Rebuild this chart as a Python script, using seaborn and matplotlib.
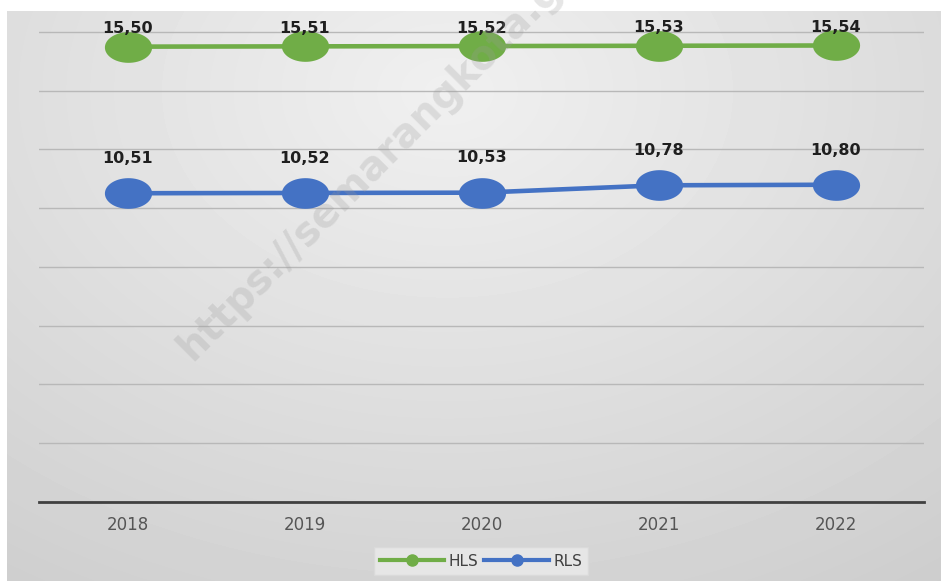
import numpy as np
import pandas as pd
import seaborn as sns
import matplotlib.pyplot as plt
from matplotlib.path import Path
from matplotlib.lines import Line2D

# --- data ---
years = [2018, 2019, 2020, 2021, 2022]
hls = [15.50, 15.51, 15.52, 15.53, 15.54]
rls = [10.51, 10.52, 10.53, 10.78, 10.80]
series_names = ['HLS', 'RLS']
series_colors = ['#70AD47', '#4472C4']

df = pd.DataFrame({
    'Tahun': years * 2,
    'Nilai': hls + rls,
    'Seri': ['HLS'] * len(years) + ['RLS'] * len(years),
})

W, H = 941, 581
fig = plt.figure(figsize=(W / 100, H / 100), dpi=100)
fig.patch.set_facecolor('white')

# --- grey radial gradient panel behind the chart (Excel style) ---
bg = fig.add_axes([7 / W, 0, 1 - 7 / W, 1 - 11 / H])
yy, xx = np.mgrid[0:570, 0:934]
dx = (xx - 440) / 720
dy = (yy - 80) / 520
shade = (240 - 30 * np.sqrt(dx ** 2 + dy ** 2)) / 255
bg.imshow(shade, cmap='gray', vmin=0, vmax=1, aspect='auto', interpolation='bilinear')
bg.axis('off')

# --- main axes ---
ax = fig.add_axes([39 / W, (H - 502) / H, (924 - 39) / W, (502 - 11.4) / H])
ax.patch.set_alpha(0)

# flattened circle marker like in the source picture
theta = np.linspace(0, 2 * np.pi, 60)
ellipse = Path(np.column_stack([np.cos(theta), 0.65 * np.sin(theta)]), closed=True)

sns.lineplot(data=df, x='Tahun', y='Nilai', hue='Seri', palette=series_colors,
             marker=ellipse, markersize=34, markeredgewidth=0, linewidth=3.3,
             legend=False, ax=ax, clip_on=False, zorder=3)

# data labels
offsets = {'HLS': 13, 'RLS': 25}
for name, vals in zip(series_names, [hls, rls]):
    for x, v in zip(years, vals):
        ax.annotate(f'{v:.2f}'.replace('.', ','), (x, v), xytext=(0, offsets[name]),
                    textcoords='offset points', ha='center', va='center',
                    fontsize=11.5, fontweight='bold', color='#1f1f1f', zorder=5)

ax.set_xlim(2017.5, 2022.5)
ax.set_ylim(0, 16.7)
ax.set_xticks(years)
ax.set_xticklabels([str(y) for y in years])
ax.set_yticks(range(0, 17, 2))
ax.set_yticklabels([])
ax.tick_params(axis='both', length=0)
ax.tick_params(axis='x', pad=10, labelsize=12, colors='#555555')
ax.set_xlabel('')
ax.set_ylabel('')
ax.set_axisbelow(True)
ax.yaxis.grid(True, color='#b8b8b8', linewidth=1)
ax.xaxis.grid(False)
for side in ['top', 'left', 'right']:
    ax.spines[side].set_visible(False)
ax.spines['bottom'].set_color('#404040')
ax.spines['bottom'].set_linewidth(2)

# watermark
fig.text(192 / W, 1 - 362 / H, 'https://semarangkota.go.id', rotation=45,
         rotation_mode='anchor', ha='left', va='baseline', fontsize=28.5,
         fontweight='bold', color='#9a9a9a', alpha=0.25, zorder=10)

# legend
handles = [Line2D([], [], color=c, linewidth=3, marker='o', markersize=8)
           for c in series_colors]
fig.legend(handles, series_names, loc='center', bbox_to_anchor=(481 / W, 1 - 561 / H),
           ncol=2, fontsize=11, handlelength=4.2, handletextpad=0.3,
           columnspacing=0.4, borderpad=0.4, fancybox=False,
           facecolor='#e6e6e6', edgecolor='#dadada', labelcolor='#404040',
           framealpha=1)

fig.savefig('out.png', dpi=100)
